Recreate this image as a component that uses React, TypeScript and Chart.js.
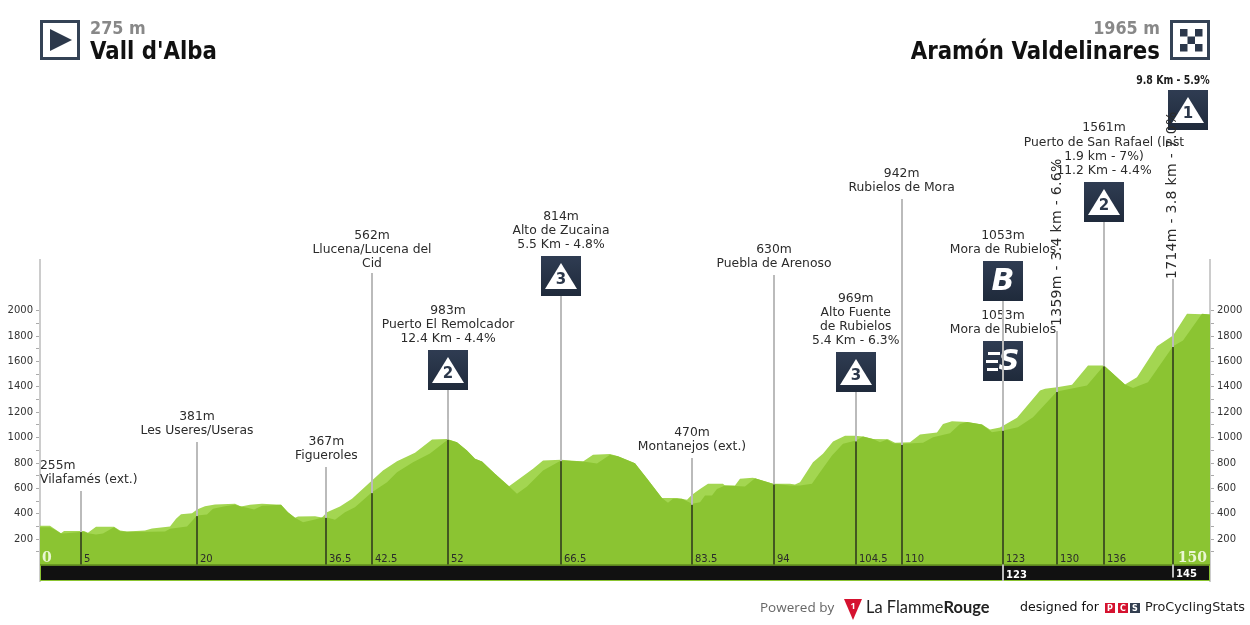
import React, { useEffect, useRef } from "react";
import { Chart, registerables } from "chart.js";

Chart.register(...registerables);

// Elevation profile, upper (lighter) outline
const lightKm = [0,1.28,2.69,3.08,5.64,6.15,7.18,9.49,10.26,11.15,13.46,14.36,16.67,17.44,18.08,19.49,20.13,21.15,22.44,25,25.77,26.92,28.46,30.9,31.79,32.69,33.08,35.26,36.15,36.79,38.46,40,42.56,43.97,45.77,48.08,50.26,52.18,53.46,54.74,55.77,56.67,58.33,60.13,61.15,63.21,64.49,66.79,69.62,70.9,73.08,74.1,76.28,77.82,79.74,81.67,82.95,83.59,84.62,85.64,87.56,87.82,89.1,89.74,91.41,93.97,96.15,96.79,97.44,99.1,100.38,101.67,103.21,104.49,105.51,106.79,108.72,109.62,111.54,112.82,115,115.77,116.92,118.85,120.77,121.79,123.08,125.26,128.21,128.85,130.38,132.31,134.36,136.41,139.1,140.64,143.21,145.26,147.05,150];
const lightAlt = [305,305,247,265,265,250,297,297,268,260,268,284,299,360,396,404,433,460,473,478,457,470,478,470,412,368,378,381,370,412,457,518,662,741,814,880,985,990,964,898,833,812,715,617,662,754,820,825,812,865,870,853,799,678,525,525,510,549,596,636,636,623,623,675,683,636,636,630,649,806,872,970,1014,1014,1009,990,988,959,964,1025,1041,1108,1130,1124,1103,1064,1080,1156,1371,1385,1398,1416,1568,1568,1418,1476,1720,1805,1976,1970];

// Elevation profile, lower (darker) outline
const darkKm = [0,1.28,1.92,2.69,3.33,5.64,6.15,7.18,8.08,8.97,9.49,10.26,11.15,14.1,16.03,16.67,18.85,19.49,20.13,21.41,22.18,23.72,25,25.77,26.54,27.44,28.46,30.9,31.79,32.69,33.72,35.26,36.15,36.92,37.82,39.1,40.38,42.56,44.49,45.77,47.82,50,52.31,53.46,54.74,55.77,56.67,58.33,60.13,61.15,62.44,64.49,66.79,69.62,71.41,73.08,74.1,76.28,77.82,79.74,80.51,81.15,82.31,83.59,84.62,85.26,86.15,86.79,87.82,90.38,91.67,93.97,96.15,97.44,98.97,100,101.54,102.95,104.62,105.51,106.79,107.69,108.59,109.36,110.51,113.21,114.49,116.67,117.95,118.85,120.77,122.05,123.46,125.38,127.31,130.38,134.23,136.41,139.1,140.13,142.05,145.26,146.54,148.97,150];
const darkAlt = [294,294,273,244,247,258,247,237,244,276,294,262,258,258,260,281,299,342,386,394,439,460,470,457,447,433,463,470,412,368,333,355,370,368,352,412,452,570,649,727,806,875,985,964,898,833,812,715,617,557,615,741,820,812,796,865,853,799,678,525,486,518,518,478,491,544,544,596,623,615,680,636,623,623,636,727,859,951,977,1009,990,964,985,956,951,959,1003,1035,1108,1124,1103,1043,1056,1082,1161,1363,1411,1568,1418,1392,1437,1720,1765,1976,1970];

// Waypoints: true position on the road, altitude where the pole meets the profile, printed km
const wpKm = [5.26,20.13,36.72,42.56,52.31,66.79,83.59,94.1,104.58,110.47,123.46,130.38,136.41,145.22];
const wpAlt = [255,381,367,562,983,814,470,630,969,942,1053,1359,1561,1714];
const wpLabel = ["5","20","36.5","42.5","52","66.5","83.5","94","104.5","110","123","130","136",""];

const tickValues = [100,200,300,400,500,600,700,800,900,1000,1100,1200,1300,1400,1500,1600,1700,1800,1900,2000];
const startName = "Vall d'Alba";
const startAlt = "275 m";
const finishName = "Aramón Valdelinares";
const finishAlt = "1965 m";

const FONT = '"DejaVu Sans"';
const TEXT = "#2b2b2b";
const NAVY = "#2c384b";

// Pole tops in canvas pixels, one per waypoint
const poleTops = [491,442,467,273,390,296,458,275,392,199,301,331,222,279];
// Stacked captions: [waypoint, centre x or null, [[text, y], ...]]
const captions: [number, number | null, [string, number][]][] = [
  [1, null, [["381m", 417], ["Les Useres/Useras", 431]]],
  [2, null, [["367m", 442], ["Figueroles", 456]]],
  [3, null, [["562m", 236], ["Llucena/Lucena del", 250], ["Cid", 264]]],
  [4, null, [["983m", 311], ["Puerto El Remolcador", 325], ["12.4 Km - 4.4%", 339]]],
  [5, null, [["814m", 217], ["Alto de Zucaina", 231], ["5.5 Km - 4.8%", 245]]],
  [6, null, [["470m", 433], ["Montanejos (ext.)", 447]]],
  [7, null, [["630m", 250], ["Puebla de Arenoso", 264]]],
  [8, null, [["969m", 299], ["Alto Fuente", 313], ["de Rubielos", 327], ["5.4 Km - 6.3%", 341]]],
  [9, null, [["942m", 174], ["Rubielos de Mora", 188]]],
  [10, null, [["1053m", 236], ["Mora de Rubielos", 250], ["1053m", 316], ["Mora de Rubielos", 330]]],
  [12, null, [["1561m", 128], ["Puerto de San Rafael (last", 143], ["1.9 km - 7%)", 157], ["11.2 Km - 4.4%", 171]]],
];
const leftCaption: [string, number][] = [["255m", 466], ["Vilafamés (ext.)", 480]];

function stretched(ctx: CanvasRenderingContext2D, t: string, x: number, y: number, sx: number) {
  ctx.save();
  ctx.translate(x, y);
  ctx.scale(sx, 1);
  ctx.fillText(t, 0, 0);
  ctx.restore();
}

function roundedIcon(ctx: CanvasRenderingContext2D, x: number, y: number) {
  const g = ctx.createLinearGradient(0, y, 0, y + 40);
  g.addColorStop(0, "#2f3c52");
  g.addColorStop(1, "#1f2a3b");
  ctx.fillStyle = g;
  ctx.fillRect(x, y, 40, 40);
}

function climbIcon(ctx: CanvasRenderingContext2D, x: number, y: number, cat: string) {
  roundedIcon(ctx, x, y);
  ctx.fillStyle = "#fff";
  ctx.beginPath();
  ctx.moveTo(x + 20, y + 7);
  ctx.lineTo(x + 36, y + 33);
  ctx.lineTo(x + 4, y + 33);
  ctx.closePath();
  ctx.fill();
  ctx.fillStyle = NAVY;
  ctx.font = `bold 15px ${FONT}`;
  ctx.textAlign = "center";
  ctx.textBaseline = "middle";
  ctx.fillText(cat, x + 20, y + 24);
}

const profilePlugin = {
  id: "profile",
  afterDatasetsDraw(chart: any) {
    const { ctx, scales, chartArea } = chart;
    const X = (v: number) => scales.x.getPixelForValue(v);
    const Y = (v: number) => scales.y.getPixelForValue(v);
    const y0 = Y(0);
    ctx.save();

    // black distance bar
    ctx.fillStyle = "#8bc432";
    ctx.fillRect(chartArea.left, y0, chartArea.width, chartArea.bottom - y0);
    ctx.fillStyle = "#111";
    ctx.fillRect(chartArea.left + 1, y0 + 1, chartArea.width - 2, chartArea.bottom - y0 - 2);
    ctx.fillStyle = "#6b9a22";
    ctx.fillRect(chartArea.left, y0 - 0.5, chartArea.width, 1.5);

    // captions
    ctx.fillStyle = TEXT;
    ctx.textBaseline = "middle";
    ctx.textAlign = "center";
    ctx.font = `13px ${FONT}`;
    for (const [i, cx, lines] of captions) {
      const c = cx ?? X(wpKm[i]);
      for (const [t, y] of lines) stretched(ctx, t, c, y, 0.95);
    }
    ctx.textAlign = "left";
    for (const [t, y] of leftCaption) stretched(ctx, t, 40, y, 0.95);

    // icons
    climbIcon(ctx, 428, 350, "2");
    climbIcon(ctx, 541, 256, "3");
    climbIcon(ctx, 836, 352, "3");
    climbIcon(ctx, 1084, 182, "2");
    climbIcon(ctx, 1168, 90, "1");

    roundedIcon(ctx, 983, 261);
    ctx.fillStyle = "#fff";
    ctx.textAlign = "center";
    ctx.font = `italic 900 30px ${FONT}`;
    ctx.fillText("B", 1003, 282);

    roundedIcon(ctx, 983, 341);
    ctx.fillStyle = "#fff";
    ctx.font = `italic 900 29px ${FONT}`;
    ctx.fillText("S", 1009, 362);
    ctx.fillRect(988, 352, 12, 3);
    ctx.fillRect(986, 360, 12, 3);
    ctx.fillRect(987, 368, 11, 3);

    // rotated captions
    const rotated: [number, string, number][] = [
      [11, `${wpAlt[11]}m - 3.4 km - 6.6%`, 326],
      [13, `${wpAlt[13]}m - 3.8 km - 7.0%`, 279],
    ];
    ctx.fillStyle = TEXT;
    ctx.font = `14px ${FONT}`;
    ctx.textAlign = "left";
    for (const [i, t, yy] of rotated) {
      ctx.save();
      ctx.translate(X(wpKm[i]), yy);
      ctx.rotate(-Math.PI / 2);
      (ctx as any).letterSpacing = "0.3px";
      ctx.fillText(t, 0, 0);
      ctx.restore();
    }

    ctx.fillStyle = "#1c1c1c";
    ctx.font = 'bold 12px "DejaVu Sans Condensed", "DejaVu Sans"';
    ctx.textAlign = "center";
    stretched(ctx, "9.8 Km - 5.9%", 1173, 81, 0.87);

    // poles
    wpKm.forEach((km, i) => {
      const x = Math.round(X(km));
      const yAlt = Y(wpAlt[i]);
      ctx.fillStyle = "#bbbbbb";
      ctx.fillRect(x - 1, poleTops[i], 2, yAlt - poleTops[i]);
      ctx.fillStyle = "#435821";
      ctx.fillRect(x - 1, yAlt, 2, y0 - yAlt);
      ctx.fillStyle = TEXT;
      ctx.font = `10px ${FONT}`;
      ctx.textAlign = "left";
      ctx.fillText(wpLabel[i], x + 3, 559);
    });

    // marks in the black bar
    ctx.fillStyle = "#bbbbbb";
    ctx.fillRect(Math.round(X(wpKm[10])) - 1, y0, 2, chartArea.bottom - y0);
    ctx.fillRect(Math.round(X(wpKm[13])) - 1, y0, 2, 13);
    ctx.fillStyle = "#fff";
    ctx.font = `bold 10px ${FONT}`;
    ctx.fillText("123", Math.round(X(wpKm[10])) + 3, 575);
    ctx.fillText("145", Math.round(X(wpKm[13])) + 3, 574);

    // start and finish distances
    ctx.fillStyle = "#eaf6d2";
    ctx.font = 'bold 14px "DejaVu Serif"';
    ctx.textAlign = "left";
    ctx.fillText("0", 42, 558);
    ctx.textAlign = "right";
    ctx.fillText("150", 1207, 558);

    // header
    ctx.strokeStyle = "#344255";
    ctx.lineWidth = 3;
    ctx.strokeRect(41.5, 21.5, 37, 37);
    ctx.strokeRect(1171.5, 21.5, 37, 37);
    ctx.fillStyle = NAVY;
    ctx.beginPath();
    ctx.moveTo(50, 29);
    ctx.lineTo(72, 40);
    ctx.lineTo(50, 51);
    ctx.closePath();
    ctx.fill();
    for (let r = 0; r < 3; r++)
      for (let c = 0; c < 3; c++)
        if ((r + c) % 2 === 0) ctx.fillRect(1180 + c * 7.5, 29 + r * 7.5, 7.5, 7.5);

    ctx.textAlign = "left";
    ctx.fillStyle = "#888";
    ctx.font = `bold 18px ${FONT}`;
    stretched(ctx, startAlt, 90, 29.5, 0.89);
    ctx.textAlign = "right";
    stretched(ctx, finishAlt, 1160, 29.5, 0.89);
    ctx.fillStyle = "#111";
    ctx.font = `bold 24px ${FONT}`;
    stretched(ctx, finishName, 1160, 52.5, 0.888);
    ctx.textAlign = "left";
    stretched(ctx, startName, 90, 52.5, 0.888);

    // footer
    ctx.fillStyle = "#666";
    ctx.font = '13.5px "Open Sans"';
    ctx.fillText("Powered by", 760, 608);
    ctx.fillStyle = "#d5122f";
    ctx.beginPath();
    ctx.moveTo(844, 599);
    ctx.lineTo(862, 599);
    ctx.lineTo(853, 620);
    ctx.closePath();
    ctx.fill();
    ctx.fillStyle = "#fff";
    ctx.font = 'bold 9px "Open Sans"';
    ctx.textAlign = "center";
    ctx.fillText("1", 853, 606);
    ctx.textAlign = "left";
    ctx.fillStyle = "#222";
    ctx.font = '16.4px "Lato"';
    ctx.fillText("La Flamme", 866, 608);
    const w = ctx.measureText("La Flamme").width;
    ctx.font = 'bold 16.4px "Lato"';
    ctx.fillText("Rouge", 866 + w, 608);
    ctx.fillStyle = "#111";
    ctx.font = `12.6px ${FONT}`;
    ctx.fillText("designed for", 1020, 608);
    const sq: [string, string, number][] = [["P", "#d5122f", 1105], ["C", "#d5122f", 1118], ["S", "#333f50", 1130]];
    for (const [t, col, x] of sq) {
      ctx.fillStyle = col;
      ctx.fillRect(x, 603, 10, 10);
      ctx.fillStyle = "#fff";
      ctx.font = `bold 8px ${FONT}`;
      ctx.textAlign = "center";
      ctx.fillText(t, x + 5, 608.5);
    }
    ctx.textAlign = "left";
    ctx.fillStyle = "#222";
    ctx.font = `12.8px ${FONT}`;
    ctx.fillText("ProCyclingStats", 1145, 608);
    ctx.restore();
  },
};

const yScale = (position: "left" | "right") => ({
  type: "linear" as const,
  position,
  min: -130,
  max: 2400,
  afterFit: (s: any) => { s.width = 40; },
  afterBuildTicks: (s: any) => { s.ticks = tickValues.map((value) => ({ value })); },
  border: { display: true, color: "#cccccc", width: 2 },
  grid: { drawOnChartArea: false, drawTicks: true, tickLength: 4, color: "#aaaaaa" },
  ticks: {
    autoSkip: false,
    padding: 3,
    color: "#333",
    font: { family: "DejaVu Sans", size: 10 },
    callback: (v: any) => (Number(v) % 200 === 0 ? String(v) : ""),
  },
});

export default function App() {
  const ref = useRef<HTMLCanvasElement>(null);
  useEffect(() => {
    const chart = new Chart(ref.current!, {
      type: "line",
      data: {
        datasets: [
          {
            data: darkKm.map((x, i) => ({ x, y: darkAlt[i] })),
            borderWidth: 0,
            pointRadius: 0,
            backgroundColor: "#8bc432",
            fill: { value: 0 },
            tension: 0,
            order: 1,
          },
          {
            data: lightKm.map((x, i) => ({ x, y: lightAlt[i] })),
            borderWidth: 0,
            pointRadius: 0,
            backgroundColor: "#a3d651",
            fill: { value: 0 },
            tension: 0,
            order: 2,
          },
        ],
      },
      options: {
        responsive: false,
        animation: false,
        layout: { padding: { top: 260, bottom: 44, left: 0, right: 0 } },
        plugins: { legend: { display: false }, tooltip: { enabled: false } },
        scales: {
          x: { type: "linear", min: 0, max: 150, display: false },
          y: yScale("left"),
          yr: yScale("right"),
        },
      },
      plugins: [profilePlugin],
    } as any);
    return () => chart.destroy();
  }, []);
  return (
    <div style={{ position: "absolute", left: 0, top: 0, width: 1250, height: 625, background: "#fff" }}>
      <canvas ref={ref} width={1250} height={625} style={{ display: "block" }} />
    </div>
  );
}
